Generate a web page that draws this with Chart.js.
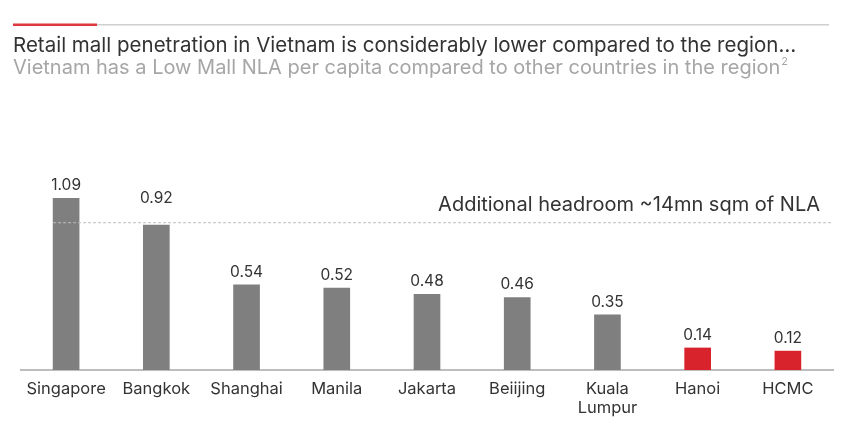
<!DOCTYPE html>
<html lang="en">
  <head>
    <meta charset="UTF-8" />
    <title>Retail mall penetration</title>
    <script src="https://cdn.jsdelivr.net/npm/chart.js"></script>
    <style>
      body {
        margin: 0;
        background: #ffffff;
      }
      #wrap {
        width: 859px;
        height: 428px;
      }
    </style>
  </head>
  <body>
    <div id="wrap"><canvas id="mallChart"></canvas></div>
    <script>
      // Data
      const cities = ["Singapore", "Bangkok", "Shanghai", "Manila", "Jakarta", "Beiijing", ["Kuala", "Lumpur"], "Hanoi", "HCMC"];
      const nlaPerCapita = [1.09, 0.92, 0.54, 0.52, 0.48, 0.46, 0.35, 0.14, 0.12];
      const isVietnam = [false, false, false, false, false, false, false, true, true];
      const headroomLevel = 0.935;
      const headroomText = "Additional headroom ~14mn sqm of NLA";
      const titleText = "Retail mall penetration in Vietnam is considerably lower compared to the region…";
      const subtitleText = "Vietnam has a Low Mall NLA per capita compared to other countries in the region";

      const FONT = "Inter, 'Noto Sans', sans-serif";
      const GREY = "#7f7f7f";
      const RED = "#d8232c";

      // header: rules, title, subtitle
      const headerPlugin = {
        id: "header",
        afterDraw(chart) {
          const c = chart.ctx;
          c.save();
          c.fillStyle = "#cfcfcf";
          c.fillRect(13, 24, 816, 1.5);
          c.fillStyle = "#e0383f";
          c.fillRect(13, 23.5, 84, 2.5);

          c.textBaseline = "middle";
          c.textAlign = "left";
          c.fillStyle = "#333333";
          c.font = "20.5px " + FONT;
          c.fillText(titleText, 13, 46);
          c.fillStyle = "#a6a6a6";
          c.font = "20px " + FONT;
          c.fillText(subtitleText, 13, 68);
          const w = c.measureText(subtitleText).width;
          c.font = "11px " + FONT;
          c.fillText("2", 13 + w + 1, 62);
          c.restore();
        }
      };

      // dashed headroom line + bar value labels
      const overlayPlugin = {
        id: "overlay",
        afterDatasetsDraw(chart) {
          const c = chart.ctx;
          const y = chart.scales.y;
          const meta = chart.getDatasetMeta(0);
          const lineY = y.getPixelForValue(headroomLevel);
          c.save();
          c.strokeStyle = "#bdbdbd";
          c.lineWidth = 1;
          c.setLineDash([3, 2]);
          c.beginPath();
          c.moveTo(meta.data[0].x - 13, lineY);
          c.lineTo(chart.chartArea.right, lineY);
          c.stroke();
          c.setLineDash([]);

          c.fillStyle = "#333333";
          c.font = "20px " + FONT;
          c.textAlign = "right";
          c.textBaseline = "middle";
          c.fillText(headroomText, 820, lineY - 18);

          c.font = "15.5px " + FONT;
          c.textAlign = "center";
          meta.data.forEach((bar, i) => {
            let ly = bar.y - 13;
            // lift the label clear of the dashed line when it would overlap
            if (bar.y > lineY - 4 && ly < lineY + 12) ly = lineY - 24;
            c.fillText(nlaPerCapita[i].toFixed(2), bar.x, ly);
          });
          c.restore();
        }
      };

      new Chart(document.getElementById("mallChart"), {
        type: "bar",
        data: {
          labels: cities,
          datasets: [
            {
              data: nlaPerCapita,
              backgroundColor: isVietnam.map((v) => (v ? RED : GREY)),
              barThickness: 26
            }
          ]
        },
        options: {
          responsive: true,
          maintainAspectRatio: false,
          animation: false,
          layout: { padding: { top: 181, left: 21, right: 26, bottom: 0 } },
          plugins: {
            legend: { display: false },
            tooltip: { enabled: false }
          },
          scales: {
            x: {
              grid: { display: false, drawTicks: false },
              border: { display: true, color: "#bdbdbd", width: 2 },
              ticks: {
                color: "#333333",
                font: { family: FONT, size: 16.5, lineHeight: 1.15 },
                padding: 10,
                maxRotation: 0,
                autoSkip: false
              },
              afterFit(scale) {
                scale.height = 58;
              }
            },
            y: {
              display: false,
              min: 0,
              max: 1.2
            }
          }
        },
        plugins: [headerPlugin, overlayPlugin]
      });
    </script>
  </body>
</html>
